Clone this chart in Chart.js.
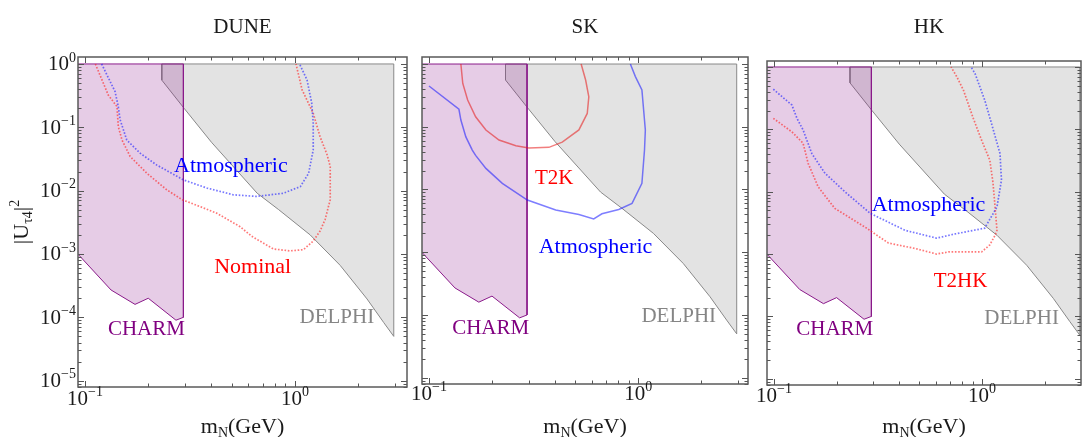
<!DOCTYPE html>
<html>
<head>
<meta charset="utf-8">
<title>|U_tau4|^2 sensitivity</title>
<script src="https://cdn.jsdelivr.net/npm/chart.js@4.4.1/dist/chart.umd.min.js"></script>
<style>
  html, body { margin: 0; padding: 0; background: #fff; }
  #wrap { position: relative; width: 1082px; height: 437px; overflow: hidden; }
  #wrap canvas { position: absolute; top: 0; }
</style>
</head>
<body>
<div id="wrap">
  <canvas id="duneChart" width="416" height="437" style="left:0px;width:416px;height:437px"></canvas>
  <canvas id="skChart" width="360" height="437" style="left:400px;width:360px;height:437px"></canvas>
  <canvas id="hkChart" width="327" height="437" style="left:755px;width:327px;height:437px"></canvas>
</div>
<script>
// excluded regions, same in all three panels (m_N in GeV, |U|^2)
const charmX = [0.09, 0.294, 0.294, 0.271, 0.200, 0.173, 0.133, 0.09, 0.09];
const charmY = [1, 1, 1.0e-4, 9.0e-5, 2.0e-4, 1.6e-4, 2.7e-4, 1.1e-3, 1];

const delphiX = [0.232, 0.232, 0.296, 0.40, 0.66, 0.836, 1.18, 1.64, 2.2, 2.64, 2.95, 2.95, 0.232];
const delphiY = [1, 0.556, 0.2, 0.058, 0.0091, 0.005, 0.002, 6.6e-4, 1.95e-4, 8.3e-5, 5.0e-5, 1, 1];

// DUNE
const duneAtmX = [0.120, 0.139, 0.144, 0.147, 0.158, 0.183, 0.219, 0.294, 0.38, 0.508, 0.656, 0.88, 1.06, 1.16, 1.22, 1.22, 1.20, 1.14, 1.05];
const duneAtmY = [1.0, 0.366, 0.212, 0.131, 0.063, 0.039, 0.0255, 0.0148, 0.011, 0.0086, 0.0081, 0.0091, 0.0116, 0.0188, 0.044, 0.116, 0.24, 0.56, 1.0];
const duneNomX = [0.112, 0.129, 0.142, 0.144, 0.150, 0.164, 0.197, 0.245, 0.290, 0.353, 0.424, 0.547, 0.622, 0.788, 0.946, 1.096, 1.22, 1.315, 1.39, 1.47, 1.47, 1.42, 1.315, 1.22, 1.08, 1.01];
const duneNomY = [1.0, 0.324, 0.212, 0.103, 0.063, 0.0346, 0.0188, 0.0103, 0.0072, 0.0056, 0.0044, 0.0027, 0.0019, 0.0012, 0.00112, 0.00117, 0.0016, 0.0023, 0.0035, 0.0072, 0.024, 0.037, 0.071, 0.167, 0.39, 1.0];

// SK
const skT2kX = [0.142, 0.145, 0.153, 0.167, 0.187, 0.216, 0.26, 0.30, 0.374, 0.433, 0.52, 0.57, 0.58, 0.56, 0.533];
const skT2kY = [1.0, 0.49, 0.267, 0.144, 0.0886, 0.0615, 0.050, 0.046, 0.047, 0.057, 0.089, 0.163, 0.30, 0.556, 1.0];
const skAtmX = [0.100, 0.139, 0.142, 0.150, 0.161, 0.167, 0.187, 0.224, 0.295, 0.403, 0.52, 0.612, 0.67, 0.806, 0.933, 1.04, 1.07, 1.08, 1.04, 0.968, 0.916];
const skAtmY = [0.446, 0.19, 0.128, 0.069, 0.0425, 0.035, 0.0217, 0.0125, 0.0068, 0.0047, 0.004, 0.0034, 0.0041, 0.0048, 0.006, 0.0125, 0.0425, 0.089, 0.385, 0.63, 1.0];

// HK
const hkAtmX = [0.0993, 0.122, 0.129, 0.138, 0.152, 0.176, 0.219, 0.29, 0.427, 0.605, 0.742, 1.03, 1.18, 1.24, 1.22, 1.11, 1.03, 0.925, 0.885];
const hkAtmY = [0.44, 0.245, 0.15, 0.098, 0.041, 0.0197, 0.01, 0.0045, 0.0024, 0.0018, 0.0021, 0.0026, 0.0057, 0.0154, 0.041, 0.125, 0.295, 0.79, 1.0];
const hkT2hkX = [0.0993, 0.122, 0.138, 0.146, 0.163, 0.196, 0.274, 0.355, 0.476, 0.605, 0.689, 0.995, 1.09, 1.155, 1.18, 1.155, 1.13, 1.09, 0.995, 0.908, 0.813, 0.756, 0.71];
const hkT2hkY = [0.15, 0.091, 0.06, 0.0285, 0.012, 0.0054, 0.0027, 0.0015, 0.00123, 0.001, 0.00108, 0.00108, 0.0014, 0.002, 0.0024, 0.0057, 0.0136, 0.032, 0.067, 0.15, 0.43, 0.7, 1.0];

// tick labels
const xTickVals = [0.1, 1];
const yTickVals = [1e-5, 1e-4, 1e-3, 1e-2, 1e-1, 1];

const serif = '"Liberation Serif", "Times New Roman", serif';
const BLUE = 'rgba(30,30,255,0.6)';
const RED = 'rgba(255,30,30,0.6)';

const pts = (xs, ys) => xs.map((x, i) => ({ x: x, y: ys[i] }));

function curve(xs, ys, color, dotted) {
    return {
        data: pts(xs, ys), showLine: true, borderColor: color,
        borderWidth: dotted ? 1.7 : 1.5, borderDash: dotted ? [1.6, 1.7] : [],
        pointRadius: 0, fill: false, tension: 0, order: 0
    };
}

function region(xs, ys, line, fillColor, order) {
    return {
        data: pts(xs, ys), showLine: true, borderColor: line, borderWidth: 1,
        backgroundColor: fillColor, fill: 'shape', pointRadius: 0, tension: 0, order: order
    };
}

function expText(v) {
    const e = Math.round(Math.log10(v));
    return e < 0 ? '\u2212' + (-e) : String(e);
}

// "10" with a raised exponent
function drawPow(ctx, v, x, y, align) {
    const sup = expText(v);
    ctx.font = '21px ' + serif;
    const wb = ctx.measureText('10').width;
    ctx.font = '14px ' + serif;
    const ws = ctx.measureText(sup).width;
    const x0 = align === 'right' ? x - wb - ws : x - (wb + ws) / 2;
    ctx.textAlign = 'left';
    ctx.textBaseline = 'middle';
    ctx.font = '21px ' + serif;
    ctx.fillText('10', x0, y);
    ctx.font = '14px ' + serif;
    ctx.fillText(sup, x0 + wb, y - 7);
}

// pieces: [text, size, dy]
function drawPieces(ctx, pieces, cx, baseY) {
    let total = 0;
    pieces.forEach(p => { ctx.font = p[1] + 'px ' + serif; total += ctx.measureText(p[0]).width; });
    let x = cx - total / 2;
    ctx.textAlign = 'left';
    ctx.textBaseline = 'alphabetic';
    pieces.forEach(p => {
        ctx.font = p[1] + 'px ' + serif;
        ctx.fillText(p[0], x, baseY + p[2]);
        x += ctx.measureText(p[0]).width;
    });
}

function makeDecor(panel) {
    return {
        id: 'decor',
        afterDraw(chart) {
            const ctx = chart.ctx;
            const a = chart.chartArea;
            const xs = chart.scales.x, ys = chart.scales.y;
            ctx.save();

            // inward ticks on all four sides
            ctx.strokeStyle = '#555';
            ctx.lineWidth = 1;
            ctx.beginPath();
            for (let d = -2; d <= 1; d++) {
                for (let m = 1; m <= 9; m++) {
                    const v = m * Math.pow(10, d);
                    if (v < xs.min || v > xs.max) continue;
                    const px = Math.round(xs.getPixelForValue(v)) + 0.5;
                    const len = m === 1 ? 6 : 3.5;
                    ctx.moveTo(px, a.bottom); ctx.lineTo(px, a.bottom - len);
                    ctx.moveTo(px, a.top); ctx.lineTo(px, a.top + len);
                }
            }
            for (let d = -6; d <= 0; d++) {
                for (let m = 1; m <= 9; m++) {
                    const v = m * Math.pow(10, d);
                    if (v < ys.min || v > ys.max) continue;
                    const py = Math.round(ys.getPixelForValue(v)) + 0.5;
                    const len = m === 1 ? 6 : 3.5;
                    ctx.moveTo(a.left, py); ctx.lineTo(a.left + len, py);
                    ctx.moveTo(a.right, py); ctx.lineTo(a.right - len, py);
                }
            }
            ctx.stroke();
            ctx.strokeStyle = '#5a5a5a';
            ctx.lineWidth = 1.5;
            ctx.strokeRect(a.left, a.top, a.right - a.left, a.bottom - a.top);

            // region labels
            ctx.textAlign = 'center';
            ctx.textBaseline = 'alphabetic';
            panel.labels.forEach(l => {
                ctx.fillStyle = l.color;
                ctx.font = l.size + 'px ' + serif;
                ctx.fillText(l.text, xs.getPixelForValue(l.x), ys.getPixelForValue(l.y) + 0.32 * l.size);
            });

            // tick labels
            ctx.fillStyle = '#1a1a1a';
            xTickVals.forEach(v => drawPow(ctx, v, xs.getPixelForValue(v), a.bottom + panel.tickDy, 'center'));
            if (panel.yLabels) {
                yTickVals.forEach(v => drawPow(ctx, v, a.left - 2, ys.getPixelForValue(v) + 1, 'right'));
            }

            // panel title and axis titles
            const cx = (a.left + a.right) / 2;
            ctx.fillStyle = '#1a1a1a';
            ctx.font = '21px ' + serif;
            ctx.textAlign = 'center';
            ctx.fillText(panel.title, cx + panel.titleDx, 27);
            drawPieces(ctx, [['m', 22, 0], ['N', 14, 4], ['(GeV)', 22, 0]], cx, 433);
            if (panel.yLabels) {
                ctx.translate(28, 222);
                ctx.rotate(-Math.PI / 2);
                drawPieces(ctx, [['|U', 22, 0], ['\u03c44', 14, 4], ['|', 22, 0], ['2', 14, -9]], 0, 0);
            }
            ctx.restore();
        }
    };
}

function makePanel(id, panel) {
    const datasets = panel.curves.concat([
        region(charmX, charmY, '#8a1a8a', 'rgba(128,0,128,0.2)', 1),
        region(delphiX, delphiY, '#888888', 'rgba(0,0,0,0.11)', 2)
    ]);
    new Chart(document.getElementById(id), {
        type: 'scatter',
        data: { datasets: datasets },
        options: {
            responsive: false,
            animation: false,
            devicePixelRatio: 1,
            layout: { padding: panel.padding },
            plugins: { legend: { display: false }, tooltip: { enabled: false }, title: { display: false } },
            scales: {
                x: { type: 'logarithmic', display: false, min: 0.0926, max: panel.xMax },
                y: { type: 'logarithmic', display: false, min: 7.94e-6, max: panel.yMax }
            }
        },
        plugins: [makeDecor(panel)]
    });
}

makePanel('duneChart', {
    title: 'DUNE', titleDx: 0, yLabels: true, tickDy: 12,
    padding: { left: 78, right: 9, top: 57, bottom: 50 },
    xMax: 3.41, yMax: 1.288,
    curves: [curve(duneAtmX, duneAtmY, BLUE, true), curve(duneNomX, duneNomY, RED, true)],
    labels: [
        { text: 'Atmospheric', x: 0.495, y: 0.0255, color: '#0000ff', size: 22 },
        { text: 'Nominal', x: 0.628, y: 6.5e-4, color: '#ff0000', size: 22 },
        { text: 'CHARM', x: 0.196, y: 6.6e-5, color: '#800080', size: 21 },
        { text: 'DELPHI', x: 1.58, y: 1.02e-4, color: '#858585', size: 21 }
    ]
});

makePanel('skChart', {
    title: 'SK', titleDx: 0, yLabels: false, tickDy: 10,
    padding: { left: 22, right: 12, top: 57, bottom: 53 },
    xMax: 3.34, yMax: 1.294,
    curves: [curve(skAtmX, skAtmY, 'rgba(20,20,255,0.55)', false), curve(skT2kX, skT2kY, 'rgba(230,20,20,0.55)', false)],
    labels: [
        { text: 'T2K', x: 0.396, y: 0.0158, color: '#ff0000', size: 21 },
        { text: 'Atmospheric', x: 0.624, y: 1.25e-3, color: '#0000ff', size: 22 },
        { text: 'CHARM', x: 0.197, y: 6.4e-5, color: '#800080', size: 21 },
        { text: 'DELPHI', x: 1.56, y: 1.0e-4, color: '#858585', size: 21 }
    ]
});

makePanel('hkChart', {
    title: 'HK', titleDx: 5, yLabels: false, tickDy: 11,
    padding: { left: 12, right: 1, top: 61, bottom: 52 },
    xMax: 2.99, yMax: 1.247,
    curves: [curve(hkAtmX, hkAtmY, BLUE, true), curve(hkT2hkX, hkT2hkY, RED, true)],
    labels: [
        { text: 'Atmospheric', x: 0.553, y: 6.3e-3, color: '#0000ff', size: 22 },
        { text: 'T2HK', x: 0.788, y: 3.8e-4, color: '#ff0000', size: 21 },
        { text: 'CHARM', x: 0.196, y: 6.5e-5, color: '#800080', size: 21 },
        { text: 'DELPHI', x: 1.55, y: 9.7e-5, color: '#858585', size: 21 }
    ]
});
</script>
</body>
</html>
